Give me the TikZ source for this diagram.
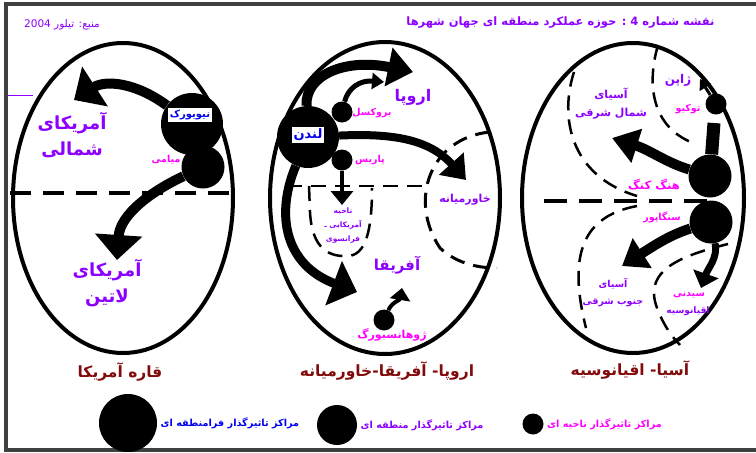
\documentclass[tikz,border=0pt]{standalone}
\usepackage{fontspec}
\usetikzlibrary{arrows.meta}
\newfontfamily\fafont[Script=Arabic]{DejaVu Sans}
\TeXXeTstate=1
\definecolor{zoneviolet}{RGB}{140,0,255}
\definecolor{citymagenta}{RGB}{255,0,255}
\definecolor{hubblue}{RGB}{0,0,240}
\definecolor{captred}{RGB}{130,10,10}
\definecolor{framegray}{RGB}{64,64,64}
\newcommand{\fa}[1]{\beginR #1\endR}

\begin{document}
\begin{tikzpicture}[x=1pt, y=-1pt,
    rim/.style={line width=4pt},
    midline/.style={line width=4.5pt, dash pattern=on 21pt off 12pt},
    zoneline/.style={line width=2.5pt, dash pattern=on 15pt off 9pt},
    bigarrow/.style={line width=10pt, -{Triangle[length=25pt,width=46pt]}},
    smallarrow/.style={line width=4pt, -{Triangle[length=12pt,width=20pt]}},
    hubbig/.style={circle, fill=black, minimum size=62pt, inner sep=0pt},
    hubmid/.style={circle, fill=black, minimum size=43pt, inner sep=0pt},
    hubsmall/.style={circle, fill=black, minimum size=21pt, inner sep=0pt},
    hubname/.style={fill=white, text=hubblue, inner sep=1.5pt, font=\fafont\bfseries\fontsize{10}{11}\selectfont},
    zonebig/.style={text=zoneviolet, align=center, font=\fafont\bfseries\fontsize{18}{26}\selectfont},
    zonemid/.style={text=zoneviolet, align=center, font=\fafont\bfseries\fontsize{11}{18}\selectfont},
    cityname/.style={text=citymagenta, font=\fafont\bfseries\fontsize{9.5}{10}\selectfont},
    capt/.style={text=captred, font=\fafont\bfseries\fontsize{15.5}{17}\selectfont},
    legendtext/.style={anchor=west, font=\fafont\bfseries\fontsize{9.7}{11}\selectfont}]
    \useasboundingbox (0,0) rectangle (756,453);
    %\draw[help lines, step=50] (0,0) grid (756,453);
    \draw[framegray, line width=4pt] (756,4) -- (6,4) -- (6,450) -- (756,450);
    \draw[zoneviolet, line width=1pt] (8,95) -- (33,95);
    \node[text=zoneviolet, anchor=east, font=\fafont\bfseries\fontsize{11.5}{14}\selectfont] (title) at (718,23) {\fa{نقشه شماره 4 : حوزه عملکرد منطقه ای جهان شهرها}};
    \node[text=zoneviolet, font=\fafont\fontsize{10.5}{12}\selectfont] (source) at (62,25) {\fa{منبع: تیلور \beginL2004\endL}};

    % America
    \draw[rim] (123,198) ellipse [x radius=110, y radius=155];
    \draw[midline] (10,193) -- (236,193);
    \node[hubbig] (ny) at (192,124) {};
    \node[hubmid] (mia) at (203,167) {};
    \node[hubname] (nyname) at (190,115) {\fa{نیویورک}};
    \node[cityname] (mianame) at (166,160) {\fa{میامی}};
    \coordinate (natip) at (74,100);
    \coordinate (latip) at (117,260);
    \draw[bigarrow] (ny) .. controls (135,82) and (105,80) .. (natip);
    \draw[bigarrow] (mia) .. controls (150,192) and (120,215) .. (latip);
    \node[zonebig] (na) at (72,135) {\fa{آمریکای}\\\fa{شمالی}};
    \node[zonebig] (la) at (107,283) {\fa{آمریکای}\\\fa{لاتین}};
    \node[capt] (amcap) at (120,372) {\fa{قاره آمریکا}};

    % Europe - Africa - Middle East
    \draw[rim] (385,198) ellipse [x radius=115, y radius=156];
    \draw[zoneline, line width=2pt] (287,186) -- (425,186);
    \draw[zoneline] (309,186) -- (310,212) .. controls (312,250) and (330,257) .. (348,256) .. controls (366,255) and (372,230) .. (372,188);
    \draw[zoneline, line width=3pt] (490,132) .. controls (430,138) and (408,200) .. (440,248) .. controls (455,262) and (475,268) .. (497,268);
    \node[hubbig] (lon) at (308,137) {};
    \node[hubsmall] (bru) at (342,112) {};
    \node[hubsmall] (par) at (342,160) {};
    \node[hubsmall] (joh) at (384,320) {};
    \node[hubname, font=\fafont\bfseries\fontsize{13}{14}\selectfont] (lonname) at (308,135) {\fa{لندن}};
    \coordinate (eutip) at (413,72);
    \coordinate (metip) at (466,180);
    \coordinate (aftip) at (357,292);
    \coordinate (brutip) at (384,82);
    \coordinate (partip) at (342,205);
    \coordinate (johtip) at (402,288);
    \draw[bigarrow, -{Triangle[length=25pt,width=38pt]}] (lon) .. controls (305,75) and (345,58) .. (eutip);
    \draw[bigarrow, line width=8pt, -{Triangle[length=22pt,width=32pt]}] (lon) .. controls (395,133) and (430,140) .. (metip);
    \draw[bigarrow, line width=9pt] (lon) .. controls (275,215) and (285,265) .. (aftip);
    \draw[smallarrow, line width=5pt, -{Triangle[length=12pt,width=16pt]}] (bru) .. controls (348,88) and (360,80) .. (brutip);
    \draw[smallarrow, -{Triangle[length=14pt,width=22pt]}] (par) -- (partip);
    \draw[smallarrow] (joh) .. controls (392,302) and (400,300) .. (johtip);
    \node[cityname] (bruname) at (372,113) {\fa{بروکسل}};
    \node[cityname] (parname) at (370,160) {\fa{پاریس}};
    \node[cityname, font=\fafont\bfseries\fontsize{11}{12}\selectfont] (johname) at (392,335) {\fa{ژوهانسبورگ}};
    \node[zonebig, font=\fafont\bfseries\fontsize{16}{18}\selectfont] (eu) at (413,97) {\fa{اروپا}};
    \node[zonebig, font=\fafont\bfseries\fontsize{15}{18}\selectfont] (af) at (397,265) {\fa{آفریقا}};
    \node[zonemid] (me) at (465,200) {\fa{خاورمیانه}};
    \node[text=zoneviolet, align=center, font=\fafont\bfseries\fontsize{7.5}{14}\selectfont] (fam) at (343,226) {\fa{ناحیه}\\\fa{آمریکایی ـ}\\\fa{فرانسوی}};
    \node[capt] (emcap) at (387,371) {\fa{اروپا- آفریقا-خاورمیانه}};

    % Asia - Oceania
    \draw[rim] (633,198) ellipse [x radius=111, y radius=155];
    \draw[midline, dash pattern=on 23pt off 12pt] (544,201) -- (708,201);
    \draw[zoneline] (574,72) .. controls (560,115) and (568,175) .. (637,196);
    \draw[zoneline] (637,206) .. controls (590,215) and (565,245) .. (586,328);
    \draw[zoneline] (658,45) .. controls (645,90) and (655,130) .. (696,144);
    \draw[zoneline] (728,244) .. controls (680,256) and (645,270) .. (656,305) .. controls (662,322) and (670,335) .. (680,345);
    \node[hubsmall] (tok) at (716,104) {};
    \node[hubmid] (hk) at (710,176) {};
    \node[hubmid] (sin) at (711,222) {};
    \coordinate (toktip) at (700,79);
    \coordinate (hktop) at (714,123);
    \coordinate (neatip) at (612,138);
    \coordinate (seatip) at (622,266);
    \coordinate (syd) at (701,288);
    \draw[smallarrow, line width=3pt, -{Triangle[length=10pt,width=13pt]}] (tok) -- (toktip);
    \draw[line width=13pt] (hk) -- (hktop);
    \draw[bigarrow, -{Triangle[length=26pt,width=34pt]}] (hk) .. controls (665,162) and (650,150) .. (neatip);
    \draw[bigarrow, -{Triangle[length=24pt,width=34pt]}] (sin) .. controls (670,235) and (655,245) .. (seatip);
    \draw[bigarrow, line width=7pt, -{Triangle[length=15pt,width=26pt]}] (sin) .. controls (718,258) and (708,268) .. (syd);
    \node[cityname] (tokname) at (688,109) {\fa{توکیو}};
    \node[cityname, font=\fafont\bfseries\fontsize{11.5}{12}\selectfont] (hkname) at (654,184) {\fa{هنگ کنگ}};
    \node[cityname] (sinname) at (662,217) {\fa{سنگاپور}};
    \node[cityname] (sydname) at (689,295) {\fa{سیدنی}};
    \node[zonemid, font=\fafont\bfseries\fontsize{12}{14}\selectfont] (jp) at (678,80) {\fa{ژاپن}};
    \node[zonemid] (nea) at (611,104) {\fa{آسیای}\\\fa{شمال شرقی}};
    \node[zonemid, font=\fafont\bfseries\fontsize{9.5}{17}\selectfont] (sea) at (613,293) {\fa{آسیای}\\\fa{جنوب شرقی}};
    \node[text=zoneviolet, font=\fafont\bfseries\fontsize{9}{10}\selectfont] (oce) at (688,311) {\fa{اقیانوسیه}};
    \node[capt] (aocap) at (630,370) {\fa{آسیا- اقیانوسیه}};

    % legend
    \node[hubbig, minimum size=58pt] (legbig) at (128,423) {};
    \node[hubmid, minimum size=40pt] (legmid) at (337,425) {};
    \node[hubsmall] (legsmall) at (533,424) {};
    \node[legendtext, text=hubblue] (legbigtext) at (legbig.east) {\fa{مراکز تاثیرگذار فرامنطقه ای}};
    \node[legendtext, text=zoneviolet] (legmidtext) at (legmid.east) {\fa{مراکز تاثیرگذار منطقه ای}};
    \node[legendtext, text=citymagenta] (legsmalltext) at (legsmall.east) {\fa{مراکز تاثیرگذار ناحیه ای}};
\end{tikzpicture}
\end{document}
